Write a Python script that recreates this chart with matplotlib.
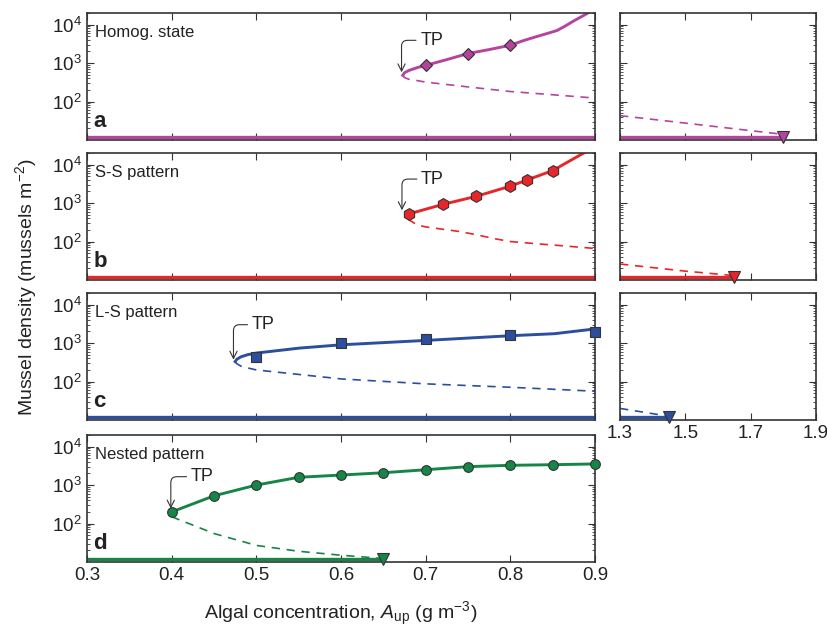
import matplotlib
matplotlib.use('Agg')
import matplotlib.pyplot as plt
from matplotlib.ticker import LogLocator, NullFormatter
import numpy as np

plt.rcParams['font.family'] = ['Liberation Sans', 'DejaVu Sans']
plt.rcParams['mathtext.fontset'] = 'custom'
plt.rcParams['mathtext.rm'] = 'Liberation Sans'
plt.rcParams['mathtext.it'] = 'Liberation Sans:italic'

#-------------data-------------
low_level = 11.8   # zero-mussel branch, drawn just above the axis floor

# a: homogeneous state
a_up_x = [0.673, 0.675, 0.68, 0.69, 0.70, 0.725, 0.75, 0.775, 0.80, 0.815, 0.83, 0.845,
          0.855, 0.865, 0.875, 0.885, 0.895]
a_up_y = [480, 560, 640, 760, 870, 1230, 1770, 2240, 2900, 3800, 4800, 6000,
          7000, 9200, 12500, 16500, 22000]
a_mid_x = [0.673, 0.675, 0.68, 0.69, 0.70, 0.75, 0.80, 0.85, 0.90]
a_mid_y = [480, 420, 380, 350, 320, 240, 182, 150, 123]
a_mark_x = [0.70, 0.75, 0.80]
a_mark_y = [870, 1770, 2870]
a_far_x = [1.3, 1.5, 1.7, 1.8]
a_far_y = [43, 27.5, 17.5, 14]
a_fold = 1.8

# b: S-S pattern
b_up_x = [0.68, 0.72, 0.76, 0.80, 0.82, 0.85, 0.89]
b_up_y = [520, 920, 1500, 2750, 4000, 7000, 22000]
b_mid_x = [0.679, 0.69, 0.70, 0.74, 0.76, 0.78, 0.80, 0.83, 0.86, 0.90]
b_mid_y = [380, 270, 240, 182, 150, 120, 100, 88, 78, 66]
b_mark_x = [0.68, 0.72, 0.76, 0.80, 0.82, 0.85]
b_mark_y = [520, 920, 1500, 2750, 4000, 7000]
b_far_x = [1.3, 1.5, 1.65]
b_far_y = [26, 17, 13]
b_fold = 1.65

# c: L-S pattern
c_up_x = [0.475, 0.477, 0.482, 0.49, 0.50, 0.551, 0.60, 0.70, 0.80, 0.852, 0.90]
c_up_y = [330, 380, 440, 500, 550, 740, 900, 1170, 1550, 1750, 2330]
c_mid_x = [0.475, 0.477, 0.482, 0.49, 0.50, 0.60, 0.70, 0.80, 0.90]
c_mid_y = [330, 290, 250, 225, 200, 117, 87, 71, 56]
c_mark_x = [0.50, 0.60, 0.70, 0.80, 0.90]
c_mark_y = [430, 1000, 1300, 1580, 1940]
c_far_x = [1.3, 1.45]
c_far_y = [20, 12.5]
c_fold = 1.45

# d: nested pattern
d_up_x = [0.40, 0.45, 0.50, 0.55, 0.60, 0.65, 0.70, 0.75, 0.80, 0.85, 0.90]
d_up_y = [200, 525, 1000, 1590, 1820, 2090, 2500, 3010, 3260, 3380, 3540]
d_mid_x = [0.40, 0.425, 0.45, 0.50, 0.55, 0.60, 0.65]
d_mid_y = [150, 91, 55, 27, 19, 15, 12.3]
d_fold = 0.65

names = ['Homog. state', 'S-S pattern', 'L-S pattern', 'Nested pattern']
letters = ['a', 'b', 'c', 'd']
colors = ['#B5449E', '#E8262A', '#2B4E9E', '#168548']
markers = ['D', 'h', 's', 'o']
msizes = [6.5, 8.5, 7, 7]
tp_text = [(0.707, 3900), (0.708, 4200), (0.508, 3000), (0.436, 1650)]
tp_tip = [(0.6715, 575), (0.672, 650), (0.473, 370), (0.399, 245)]

left_x = [0.3, 0.4, 0.5, 0.6, 0.7, 0.8, 0.9]
right_x = [1.3, 1.5, 1.7, 1.9]

ink = '#333333'


def style(ax):
    ax.set_yscale('log')
    ax.set_ylim(10, 2e4)
    ax.set_yticks([1e2, 1e3, 1e4])
    ax.yaxis.set_minor_locator(LogLocator(base=10, subs=np.arange(2, 10), numticks=20))
    ax.yaxis.set_minor_formatter(NullFormatter())
    ax.tick_params(which='both', direction='in', top=True, right=True,
                   colors=ink, labelcolor='#222222', labelsize=13.5, width=0.8)
    ax.tick_params(which='major', length=5)
    ax.tick_params(which='minor', length=2.5, width=0.6)
    ax.tick_params(axis='x', which='minor', length=0)
    for s in ax.spines.values():
        s.set_color(ink)
        s.set_linewidth(1.2)


fig = plt.figure(figsize=(8.28, 6.33), dpi=100)
tops = [13, 153, 293, 435]
H = 127 / 633

ups = [(a_up_x, a_up_y), (b_up_x, b_up_y), (c_up_x, c_up_y), (d_up_x, d_up_y)]
mids = [(a_mid_x, a_mid_y), (b_mid_x, b_mid_y), (c_mid_x, c_mid_y), (d_mid_x, d_mid_y)]
marks = [(a_mark_x, a_mark_y), (b_mark_x, b_mark_y), (c_mark_x, c_mark_y), (d_up_x, d_up_y)]
fars = [(a_far_x, a_far_y, a_fold), (b_far_x, b_far_y, b_fold), (c_far_x, c_far_y, c_fold)]

for i in range(4):
    bottom = 1 - (tops[i] + 127) / 633
    ax = fig.add_axes([87 / 828, bottom, 508 / 828, H])
    style(ax)
    col = colors[i]
    ax.set_xlim(0.3, 0.9)
    ax.set_xticks(left_x)

    # lower (zero) branch
    if i == 3:
        ax.plot([0.3, d_fold], [low_level, low_level], color=col, lw=2.4, solid_capstyle='butt', clip_on=False)
        ax.plot([d_fold], [low_level], marker='v', ms=9, color=col, mec=ink, mew=0.8, clip_on=False, zorder=5)
    else:
        ax.plot([0.3, 0.9], [low_level, low_level], color=col, lw=2.4, solid_capstyle='butt', clip_on=False)

    ax.plot(ups[i][0], ups[i][1], color=col, lw=2.1)
    ax.plot(mids[i][0], mids[i][1], color=col, lw=1.2, ls=(0, (5, 4)))
    ax.plot(marks[i][0], marks[i][1], ls='none', marker=markers[i], ms=msizes[i],
            color=col, mec=ink, mew=0.8, clip_on=False, zorder=4)

    ax.annotate('TP', xy=tp_tip[i], xytext=tp_text[i], fontsize=13, ha='center', va='center',
                color='#222222',
                arrowprops=dict(arrowstyle='->', color=ink, lw=0.8, shrinkA=1, shrinkB=0,
                                connectionstyle='angle,angleA=0,angleB=90,rad=6'))
    ax.text(0.016, 0.85, names[i], transform=ax.transAxes, fontsize=12, va='center', color='#222222')
    ax.text(0.012, 0.1, letters[i], transform=ax.transAxes, fontsize=16, fontweight='bold', color='#222222')

    if i < 3:
        ax.set_xticklabels([])
        # far right part of the diagram
        axr = fig.add_axes([620 / 828, bottom, 196 / 828, H])
        style(axr)
        axr.set_xlim(1.3, 1.9)
        axr.set_xticks(right_x)
        axr.tick_params(which='both', labelleft=False)
        fx, fy, fold = fars[i]
        axr.plot([1.3, fold], [low_level, low_level], color=col, lw=2.4, solid_capstyle='butt', clip_on=False)
        axr.plot(fx, fy, color=col, lw=1.2, ls=(0, (5, 4)))
        axr.plot([fold], [low_level], marker='v', ms=9, color=col, mec=ink, mew=0.8, clip_on=False, zorder=5)
        if i < 2:
            axr.set_xticklabels([])
        else:
            axr.set_xticklabels(['1.3', '1.5', '1.7', '1.9'])
    else:
        ax.set_xticklabels(['0.3', '0.4', '0.5', '0.6', '0.7', '0.8', '0.9'])

fig.text(26 / 828, 1 - 287 / 633, 'Mussel density (mussels m$^{-2}$)', rotation=90,
         ha='center', va='center', fontsize=14, color='#222222')
fig.text(341 / 828, 1 - 614 / 633, 'Algal concentration, $A_{\\mathrm{up}}$ (g m$^{-3}$)',
         ha='center', va='center', fontsize=14, color='#222222')

fig.savefig('out.png', dpi=100)
